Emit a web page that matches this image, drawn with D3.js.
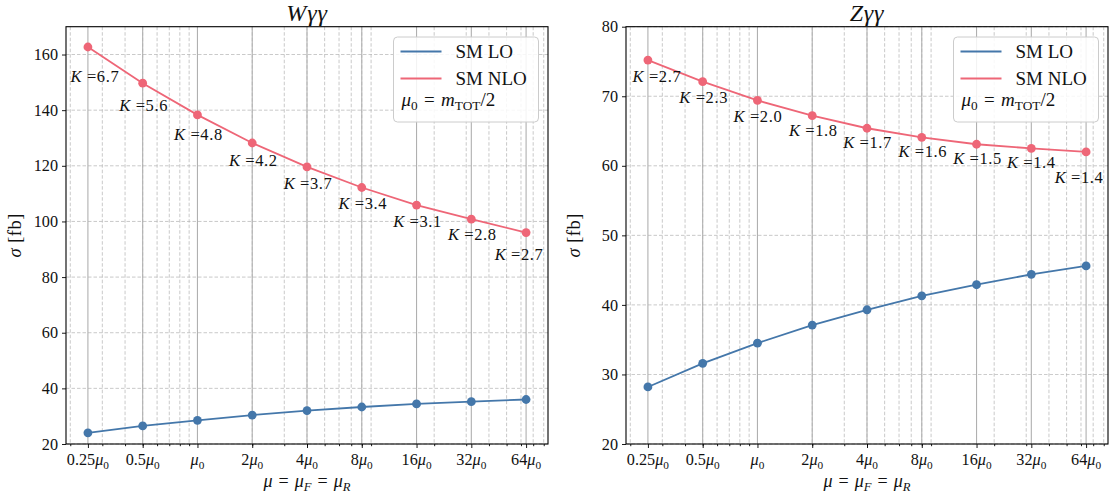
<!DOCTYPE html>
<html><head><meta charset="utf-8">
<script src="https://cdn.jsdelivr.net/npm/d3@7"></script>
<style>
html,body{margin:0;padding:0;background:#fff;}
svg{display:block;font-family:"Liberation Serif","DejaVu Serif",serif;}
</style></head>
<body><svg id="chart" width="1110" height="497"></svg>
<script>
// ---------- data ----------
const scaleFactors = [0.25, 0.5, 1, 2, 4, 8, 16, 32, 64];
const xTickPrefix = ["0.25", "0.5", "", "2", "4", "8", "16", "32", "64"];
const minorFactors = [0.2,0.3,0.4,0.5,0.6,0.7,0.8,0.9,2,3,4,5,6,7,8,9,20,30,40,50,60,70,80];

const wLO  = [24.0, 26.5, 28.5, 30.4, 32.0, 33.3, 34.4, 35.2, 36.0];
const wNLO = [162.7, 149.7, 138.3, 128.2, 119.6, 112.2, 105.9, 100.8, 96.0];
const wK   = ["6.7", "5.6", "4.8", "4.2", "3.7", "3.4", "3.1", "2.8", "2.7"];
const wYTicks = [20, 40, 60, 80, 100, 120, 140, 160];

const zLO  = [28.2, 31.6, 34.5, 37.1, 39.3, 41.3, 42.9, 44.4, 45.6];
const zNLO = [75.2, 72.1, 69.4, 67.2, 65.4, 64.1, 63.1, 62.5, 62.0];
const zK   = ["2.7", "2.3", "2.0", "1.8", "1.7", "1.6", "1.5", "1.4", "1.4"];
const zYTicks = [20, 30, 40, 50, 60, 70, 80];

const seriesNames = ["SM LO", "SM NLO"];

// ---------- layout ----------
const COLORS = {LO: "#4477AA", NLO: "#EE6677"};
const wLabelOffsets = [[7,35],[1,28],[1,25],[1,23.5],[1,22.5],[1,22],[1,22],[1,21],[-7,27]];
const zLabelOffsets = [[9,22],[1,21.5],[0.5,21.5],[1,20.7],[0.5,19.7],[1,19.7],[1,19.3],[0,20],[-7,31.6]];

const panels = [
  {title: "W", left: 66, right: 548, yDomain: [20,170], yTicks: wYTicks, lo: wLO, nlo: wNLO, K: wK, off: wLabelOffsets, ylabX: 21},
  {title: "Z", left: 626, right: 1108, yDomain: [20,80], yTicks: zYTicks, lo: zLO, nlo: zNLO, K: zK, off: zLabelOffsets, ylabX: 580}
];
const TOP = 26.7, BOTTOM = 444;
const EQ = "\u2004=\u2004";

const svg = d3.select("#chart");

function addRich(sel, parts, fs) {
  let cur = 0;
  parts.forEach(p => {
    const target = p.sub ? fs * 0.22 : 0;
    const ts = sel.append("tspan").text(p.t).attr("dy", (target - cur).toFixed(2));
    cur = target;
    if (p.i) ts.attr("font-style", "italic");
    if (p.sub) ts.attr("font-size", (fs * 0.7).toFixed(1));
  });
}

panels.forEach(P => {
  const g = svg.append("g");
  const xMin = 0.25 * Math.pow(2, -0.4), xMax = 64 * Math.pow(2, 0.4);
  const x = d3.scaleLog().base(2).domain([xMin, xMax]).range([P.left, P.right]);
  const y = d3.scaleLinear().domain(P.yDomain).range([BOTTOM, TOP]);
  const minors = minorFactors.filter(v => v > xMin && v < xMax);

  // grid: minor x dashed
  g.append("g").selectAll("line").data(minors).join("line")
    .attr("x1", d => x(d)).attr("x2", d => x(d)).attr("y1", TOP).attr("y2", BOTTOM)
    .attr("stroke", "#b0b0b0").attr("stroke-width", 0.9).attr("stroke-dasharray", "3.5,2").attr("opacity", 0.75);
  // grid: y dashed
  g.append("g").selectAll("line").data(P.yTicks).join("line")
    .attr("x1", P.left).attr("x2", P.right).attr("y1", d => y(d)).attr("y2", d => y(d))
    .attr("stroke", "#b0b0b0").attr("stroke-width", 0.9).attr("stroke-dasharray", "3.5,2").attr("opacity", 0.75);
  // grid: major x solid
  g.append("g").selectAll("line").data(scaleFactors).join("line")
    .attr("x1", d => x(d)).attr("x2", d => x(d)).attr("y1", TOP).attr("y2", BOTTOM)
    .attr("stroke", "#b0b0b0").attr("stroke-width", 1.1);

  // axes
  const xAxis = d3.axisBottom(x).tickValues(scaleFactors).tickSize(4).tickFormat("");
  const xMinorAxis = d3.axisBottom(x).tickValues(minors).tickSize(2.2).tickFormat("");
  const yAxis = d3.axisLeft(y).tickValues(P.yTicks).tickSize(4).tickFormat("");
  [xAxis, xMinorAxis].forEach(ax => {
    const a = g.append("g").attr("transform", `translate(0,${BOTTOM})`).call(ax);
    a.select(".domain").remove();
    a.selectAll(".tick line").attr("stroke", "#000").attr("stroke-width", 0.9);
  });
  const ya = g.append("g").attr("transform", `translate(${P.left},0)`).call(yAxis);
  ya.select(".domain").remove();
  ya.selectAll(".tick line").attr("stroke", "#000").attr("stroke-width", 0.9);

  // x tick labels
  scaleFactors.forEach((v, i) => {
    const t = g.append("text").attr("x", x(v)).attr("y", BOTTOM + 21).attr("text-anchor", "middle")
      .attr("font-size", 16.2).attr("fill", "#111");
    const parts = [];
    if (xTickPrefix[i]) parts.push({t: xTickPrefix[i]});
    parts.push({t: "μ", i: true}, {t: "0", sub: true});
    addRich(t, parts, 16.2);
  });
  // y tick labels
  P.yTicks.forEach(v => {
    g.append("text").attr("x", P.left - 8).attr("y", y(v)).attr("dy", "0.35em").attr("text-anchor", "end")
      .attr("font-size", 16.2).attr("fill", "#111").text(v);
  });

  // spines
  g.append("rect").attr("x", P.left).attr("y", TOP).attr("width", P.right - P.left).attr("height", BOTTOM - TOP)
    .attr("fill", "none").attr("stroke", "#000").attr("stroke-width", 1.1);

  // series
  const line = d3.line().x((d, i) => x(scaleFactors[i])).y(d => y(d));
  [["LO", P.lo], ["NLO", P.nlo]].forEach(([k, arr]) => {
    g.append("path").datum(arr).attr("d", line).attr("fill", "none").attr("stroke", COLORS[k]).attr("stroke-width", 1.8);
    g.append("g").selectAll("circle").data(arr).join("circle")
      .attr("cx", (d, i) => x(scaleFactors[i])).attr("cy", d => y(d)).attr("r", 4.4).attr("fill", COLORS[k]);
  });

  // K labels
  P.nlo.forEach((v, i) => {
    const t = g.append("text").attr("x", x(scaleFactors[i]) + P.off[i][0]).attr("y", y(v) + P.off[i][1])
      .attr("dy", "0.35em").attr("text-anchor", "middle").attr("font-size", 16.5).attr("fill", "#111")
      .attr("letter-spacing", 0.6);
    addRich(t, [{t: "K", i: true}, {t: " =" + P.K[i]}], 16.5);
  });

  // title
  const tt = g.append("text").attr("x", (P.left + P.right) / 2).attr("y", 21).attr("text-anchor", "middle")
    .attr("font-size", 24).attr("fill", "#111").attr("letter-spacing", 0.8);
  addRich(tt, [{t: P.title + "γγ", i: true}], 24);

  // x label
  const xl = g.append("text").attr("x", (P.left + P.right) / 2).attr("y", 487).attr("text-anchor", "middle")
    .attr("font-size", 18).attr("fill", "#111");
  addRich(xl, [{t: "μ", i: true}, {t: EQ}, {t: "μ", i: true}, {t: "F", i: true, sub: true}, {t: EQ}, {t: "μ", i: true}, {t: "R", i: true, sub: true}], 18);

  // y label
  const yl = g.append("text").attr("transform", `translate(${P.ylabX},${(TOP + BOTTOM) / 2}) rotate(-90)`)
    .attr("text-anchor", "middle").attr("font-size", 18.5).attr("fill", "#111").attr("letter-spacing", 0.5);
  addRich(yl, [{t: "σ", i: true}, {t: " [fb]"}], 18.5);

  // legend
  const lw = 145, lh = 85;
  const lx = P.right - 9.5 - lw, ly = 37;
  const lg = g.append("g");
  lg.append("rect").attr("x", lx).attr("y", ly).attr("width", lw).attr("height", lh).attr("rx", 4)
    .attr("fill", "#fff").attr("fill-opacity", 0.85).attr("stroke", "#cccccc").attr("stroke-width", 1);
  [["LO", seriesNames[0]], ["NLO", seriesNames[1]]].forEach(([k, name], i) => {
    const yy = ly + 14.5 + i * 27;
    lg.append("line").attr("x1", lx + 7).attr("x2", lx + 48).attr("y1", yy).attr("y2", yy)
      .attr("stroke", COLORS[k]).attr("stroke-width", 2.2);
    lg.append("text").attr("x", lx + 62).attr("y", yy).attr("dy", "0.35em").attr("font-size", 19).attr("fill", "#111").text(name);
  });
  const mt = lg.append("text").attr("x", lx + 8).attr("y", ly + 69).attr("dy", "0.35em").attr("font-size", 19).attr("fill", "#111");
  addRich(mt, [{t: "μ", i: true}, {t: "0", sub: true}, {t: EQ}, {t: "m", i: true}, {t: "TOT", sub: true}, {t: "/2"}], 19);
});
</script></body></html>
